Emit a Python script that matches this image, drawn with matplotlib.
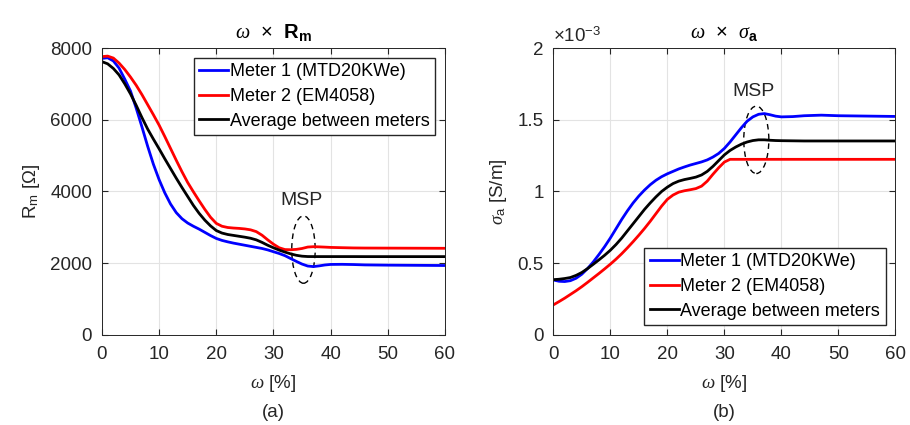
import matplotlib.pyplot as plt
from matplotlib.patches import Ellipse

plt.rcParams['font.family'] = ['Liberation Sans', 'DejaVu Sans']
plt.rcParams['mathtext.fontset'] = 'custom'
plt.rcParams['mathtext.rm'] = 'Liberation Sans'
plt.rcParams['mathtext.it'] = 'Liberation Serif:italic'
plt.rcParams['mathtext.bf'] = 'Liberation Sans:bold'

# (a) resistance vs moisture
w_a = list(range(0, 41)) + [42, 44, 46, 50, 60]
rm_meter1 = [7710, 7730, 7640, 7440, 7130, 6800, 6320, 5800, 5260, 4760,
             4330, 3960, 3650, 3410, 3240, 3120, 3030, 2950, 2860, 2770,
             2690, 2635, 2595, 2560, 2530, 2500, 2470, 2440, 2410, 2370,
             2320, 2270, 2210, 2130, 2050, 1975, 1920, 1905, 1925, 1950,
             1965, 1968, 1962, 1952, 1945, 1935]
rm_meter2 = [7760, 7775, 7720, 7580, 7400, 7190, 6960, 6700, 6420, 6140,
             5850, 5530, 5200, 4870, 4550, 4250, 3990, 3740, 3500, 3280,
             3110, 3030, 2995, 2980, 2970, 2955, 2930, 2880, 2780, 2650,
             2530, 2430, 2380, 2375, 2385, 2410, 2450, 2460, 2455, 2448,
             2440, 2432, 2425, 2422, 2420, 2415]
rm_avg = [7620, 7560, 7430, 7250, 7000, 6720, 6400, 6060, 5740, 5460,
          5190, 4910, 4640, 4370, 4110, 3860, 3610, 3390, 3200, 3040,
          2910, 2840, 2800, 2775, 2750, 2725, 2695, 2650, 2580, 2500,
          2430, 2365, 2310, 2260, 2220, 2195, 2185, 2184, 2184, 2184,
          2184, 2184, 2184, 2183, 2183, 2183]

# (b) apparent conductivity vs moisture (x1e-3 S/m)
w_b = list(range(0, 41)) + [42, 44, 47, 50, 60]
sig_meter1 = [0.383, 0.374, 0.372, 0.378, 0.395, 0.423, 0.462, 0.508, 0.560, 0.615,
              0.675, 0.740, 0.805, 0.865, 0.920, 0.968, 1.010, 1.047, 1.078, 1.103,
              1.123, 1.140, 1.157, 1.171, 1.184, 1.195, 1.206, 1.220, 1.240, 1.265,
              1.300, 1.345, 1.395, 1.445, 1.490, 1.520, 1.538, 1.543, 1.535, 1.525,
              1.520, 1.522, 1.528, 1.532, 1.528, 1.523]
sig_meter2 = [0.209, 0.232, 0.256, 0.282, 0.308, 0.336, 0.366, 0.397, 0.428, 0.460,
              0.493, 0.528, 0.566, 0.607, 0.650, 0.695, 0.742, 0.792, 0.845, 0.898,
              0.945, 0.975, 0.995, 1.005, 1.012, 1.020, 1.037, 1.072, 1.120, 1.165,
              1.205, 1.224, 1.224, 1.224, 1.224, 1.224, 1.224, 1.224, 1.224, 1.224,
              1.224, 1.224, 1.224, 1.224, 1.224, 1.224]
sig_avg = [0.385, 0.388, 0.393, 0.400, 0.415, 0.435, 0.462, 0.492, 0.523, 0.555,
           0.590, 0.630, 0.675, 0.725, 0.775, 0.825, 0.875, 0.920, 0.962, 1.000,
           1.030, 1.055, 1.072, 1.083, 1.091, 1.100, 1.115, 1.140, 1.175, 1.215,
           1.255, 1.286, 1.310, 1.330, 1.345, 1.355, 1.360, 1.360, 1.357, 1.355,
           1.354, 1.353, 1.352, 1.352, 1.352, 1.352]

labels = ['Meter 1 (MTD20KWe)', 'Meter 2 (EM4058)', 'Average between meters']
colors = ['#0000ff', '#ff0000', '#000000']
txt = '#262626'
fs = 13.5

fig = plt.figure(figsize=(9.1, 4.25), dpi=100)
ax1 = fig.add_axes([0.112, 0.212, 0.377, 0.675])
ax2 = fig.add_axes([0.608, 0.212, 0.376, 0.675])


def style_ax(ax):
    ax.grid(True, color='#e3e3e3', lw=0.8)
    ax.set_axisbelow(True)
    ax.tick_params(direction='in', labelsize=fs, colors=txt, length=4, pad=7,
                   top=True, right=True)
    ax.tick_params(axis='x', pad=8)
    for s in ax.spines.values():
        s.set_color(txt)
        s.set_linewidth(0.7)
    ax.set_xlim(0, 60)
    ax.set_xticks(range(0, 61, 10))
    ax.set_xlabel(r'$\mathit{\omega}$ [%]', fontsize=fs, color=txt, labelpad=7)


def add_legend(ax, loc):
    ax.legend(loc=loc, fontsize=13, frameon=True, fancybox=False, edgecolor=txt,
              handlelength=1.6, handletextpad=0.1, labelspacing=0.42, borderpad=0.3,
              borderaxespad=0.55, framealpha=1)


for ys, c, l in zip([rm_meter1, rm_meter2, rm_avg], colors, labels):
    ax1.plot(w_a, ys, color=c, lw=2, label=l)
style_ax(ax1)
ax1.set_ylim(0, 8000)
ax1.set_yticks(range(0, 8001, 2000))
ax1.set_title(r'$\mathit{\omega}$  $\times$  $\mathbf{R_m}$', fontsize=14.5, color='k', pad=7)
ax1.set_ylabel(r'R$_\mathrm{m}$ [$\Omega$]', fontsize=fs, color=txt, labelpad=6)
add_legend(ax1, 'upper right')
ax1.add_patch(Ellipse((35.25, 2380), 4.1, 1880, fill=False, ls=(0, (4, 3)), lw=1, color='k'))
ax1.text(34.9, 3750, 'MSP', fontsize=14, ha='center', va='center', color=txt)

for ys, c, l in zip([sig_meter1, sig_meter2, sig_avg], colors, labels):
    ax2.plot(w_b, ys, color=c, lw=2, label=l)
style_ax(ax2)
ax2.set_ylim(0, 2)
ax2.set_yticks([0, 0.5, 1, 1.5, 2])
ax2.set_yticklabels(['0', '0.5', '1', '1.5', '2'])
ax2.text(0.0, 1.008, r'$\times10^{-3}$', transform=ax2.transAxes, fontsize=fs,
         ha='left', va='bottom', color=txt)
ax2.set_title(r'$\mathit{\omega}$  $\times$  $\mathit{\sigma}_\mathbf{a}$', fontsize=14.5, color='k', pad=7)
ax2.set_ylabel(r'$\mathit{\sigma}_\mathrm{a}$ [S/m]', fontsize=fs, color=txt, labelpad=6)
add_legend(ax2, 'lower right')
ax2.add_patch(Ellipse((35.6, 1.36), 4.4, 0.47, fill=False, ls=(0, (4, 3)), lw=1, color='k'))
ax2.text(35.1, 1.70, 'MSP', fontsize=14, ha='center', va='center', color=txt)

fig.text(0.30, 0.03, '(a)', fontsize=fs, ha='center', va='center', color=txt)
fig.text(0.796, 0.03, '(b)', fontsize=fs, ha='center', va='center', color=txt)

fig.savefig('out.png', dpi=100)
